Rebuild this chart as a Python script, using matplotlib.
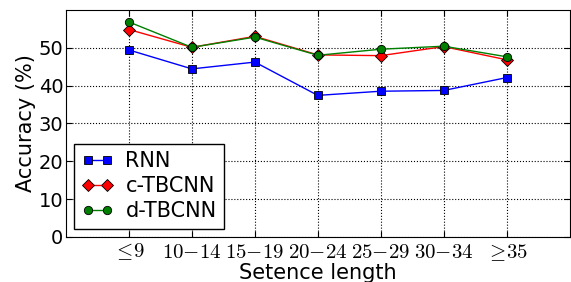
import matplotlib
matplotlib.use("Agg")
import matplotlib.pyplot as plt

categories = [r"$\leq\!9$", r"$10{-}14$", r"$15{-}19$", r"$20{-}24$", r"$25{-}29$", r"$30{-}34$", r"$\geq\!35$"]
rnn = [49.4, 44.4, 46.2, 37.4, 38.5, 38.7, 42.1]
c_tbcnn = [54.8, 50.1, 53.0, 48.1, 47.9, 50.3, 46.8]
d_tbcnn = [56.8, 50.1, 52.8, 48.0, 49.6, 50.4, 47.6]

plt.rcParams["mathtext.fontset"] = "cm"

fig = plt.figure(figsize=(5.71, 2.82), dpi=100)
ax = fig.add_axes([0.1156, 0.160, 0.882, 0.805])

x = list(range(1, len(categories) + 1))
ax.plot(x, rnn, color="b", marker="s", markersize=6, markeredgecolor="k",
        markeredgewidth=0.6, linewidth=1, label="RNN")
ax.plot(x, c_tbcnn, color="r", marker="D", markersize=6, markeredgecolor="k",
        markeredgewidth=0.6, linewidth=1, label="c-TBCNN")
ax.plot(x, d_tbcnn, color="g", marker="o", markersize=6, markeredgecolor="k",
        markeredgewidth=0.6, linewidth=1, label="d-TBCNN")

ax.set_xlim(0, 8)
ax.set_ylim(0, 60)
ax.set_xticks(x)
ax.set_xticklabels(categories, fontsize=15)
ax.set_yticks(range(0, 60, 10))
ax.tick_params(axis="y", labelsize=14, pad=2)
ax.tick_params(direction="in", top=True, right=True, length=4)
ax.grid(True, linestyle=":", color="k", linewidth=0.8)

ax.set_xlabel("Setence length", fontsize=15, labelpad=0)
ax.set_ylabel("Accuracy (%)", fontsize=15, labelpad=2)

leg = ax.legend(loc="lower left", fontsize=15, numpoints=2, fancybox=False,
                borderaxespad=0.4, handlelength=1.5, labelspacing=0.25,
                borderpad=0.35, handletextpad=0.6, framealpha=1)
leg.get_frame().set_edgecolor("k")

fig.savefig("out.png", dpi=100)
